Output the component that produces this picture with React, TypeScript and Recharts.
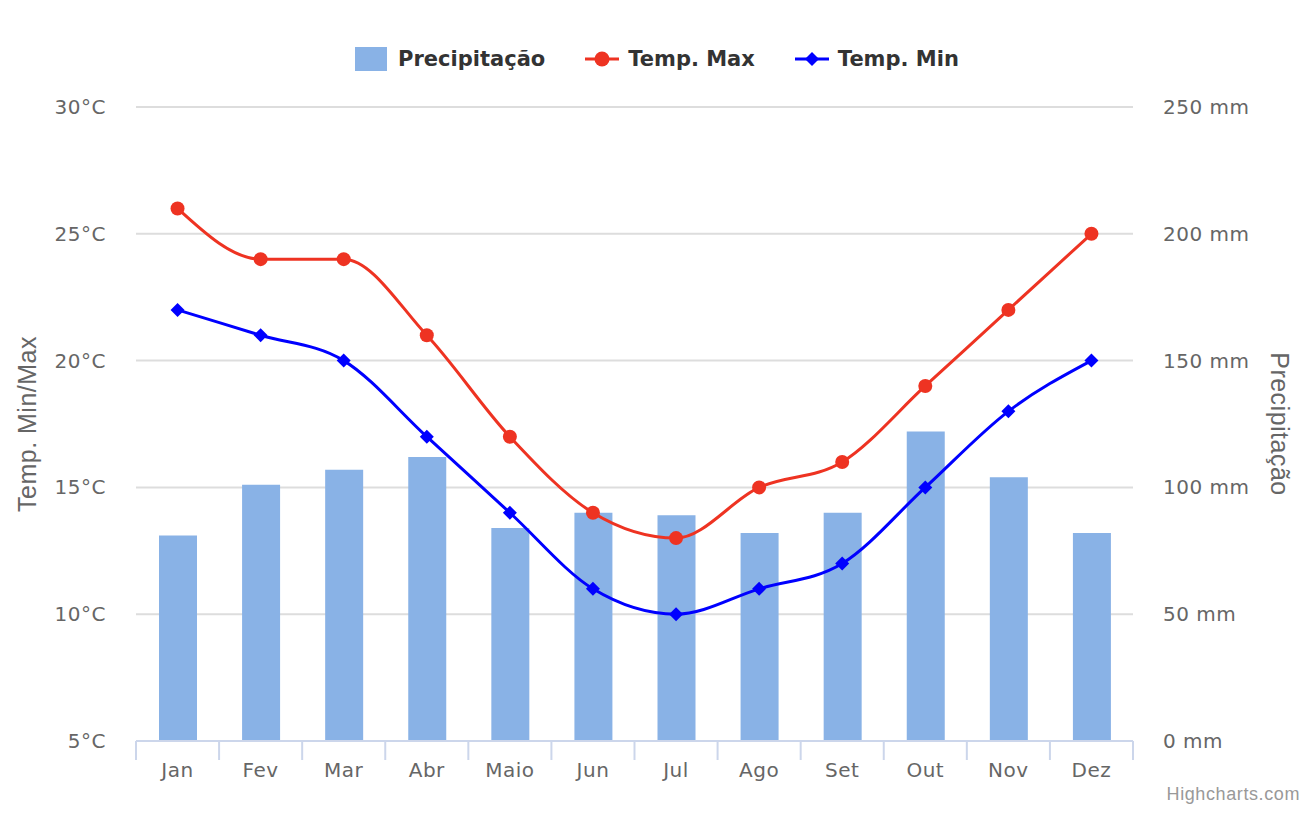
import React from 'react';
import { ComposedChart, Bar, Line, XAxis, YAxis, CartesianGrid } from 'recharts';

const months = ['Jan', 'Fev', 'Mar', 'Abr', 'Maio', 'Jun', 'Jul', 'Ago', 'Set', 'Out', 'Nov', 'Dez'];
const precipitation = [81, 101, 107, 112, 84, 90, 89, 82, 90, 122, 104, 82];
const tempMax = [26, 24, 24, 21, 17, 14, 13, 15, 16, 19, 22, 25];
const tempMin = [22, 21, 20, 17, 14, 11, 10, 11, 12, 15, 18, 20];
const tempTicks = [5, 10, 15, 20, 25, 30];
const precipTicks = [0, 50, 100, 150, 200, 250];

const data = months.map((m, i) => ({
  month: m,
  precip: precipitation[i],
  max: tempMax[i],
  min: tempMin[i],
}));

const W = 1314;
const H = 834;
const LEFT_W = 136;
const RIGHT_W = 181;
const PLOT_W = W - LEFT_W - RIGHT_W;
const BAND = PLOT_W / months.length;

const RED = '#EE3322';
const BLUE = '#0000FF';
const BAR = '#89B2E6';
const AXIS = '#CCD6EB';
const TEXT = '#666666';
const tickFont = { fontFamily: 'DejaVu Sans', fontSize: 20, letterSpacing: 0.5, fill: TEXT };

const XTick = (props: any) => {
  const { x, y, payload, index } = props;
  return (
    <g>
      <line x1={x - BAND / 2} x2={x - BAND / 2} y1={y} y2={y + 19} stroke={AXIS} strokeWidth={2} />
      {index === months.length - 1 && (
        <line x1={x + BAND / 2} x2={x + BAND / 2} y1={y} y2={y + 19} stroke={AXIS} strokeWidth={2} />
      )}
      <text x={x} y={y + 36} textAnchor="middle" {...tickFont}>
        {payload.value}
      </text>
    </g>
  );
};

const LeftTick = (props: any) => {
  const { x, y, payload } = props;
  return (
    <text x={x - 30} y={y + 7} textAnchor="end" {...tickFont}>
      {`${payload.value}°C`}
    </text>
  );
};

const RightTick = (props: any) => {
  const { x, y, payload } = props;
  return (
    <text x={x + 30} y={y + 7} textAnchor="start" {...tickFont}>
      {`${payload.value} mm`}
    </text>
  );
};

const Diamond = (props: any) => {
  const { cx, cy } = props;
  if (cx == null || cy == null) return null;
  const r = 7;
  return <polygon points={`${cx},${cy - r} ${cx + r},${cy} ${cx},${cy + r} ${cx - r},${cy}`} fill={BLUE} />;
};

const titleFont = { fontFamily: 'Liberation Sans', fontSize: 25, letterSpacing: 0.5, fill: TEXT };

const LeftTitle = (props: any) => {
  const vb = props.viewBox;
  const cx = vb.x + 27;
  const cy = vb.y + vb.height / 2;
  return (
    <text x={cx} y={cy} textAnchor="middle" dominantBaseline="central" transform={`rotate(-90 ${cx} ${cy})`} {...titleFont}>
      Temp. Min/Max
    </text>
  );
};

const RightTitle = (props: any) => {
  const vb = props.viewBox;
  const cx = vb.x + 147;
  const cy = vb.y + vb.height / 2;
  return (
    <text x={cx} y={cy} textAnchor="middle" dominantBaseline="central" transform={`rotate(90 ${cx} ${cy})`} {...titleFont}>
      Precipitação
    </text>
  );
};

const legendText: React.CSSProperties = {
  fontFamily: 'DejaVu Sans',
  fontWeight: 'bold',
  fontSize: 21,
  letterSpacing: 0,
  color: '#333333',
};

const LegendBox = () => (
  <div
    style={{
      position: 'absolute',
      left: 0,
      top: 44,
      width: W,
      display: 'flex',
      justifyContent: 'center',
      alignItems: 'center',
      height: 30,
    }}
  >
    <div style={{ display: 'flex', alignItems: 'center', marginRight: 40 }}>
      <div style={{ width: 32, height: 24, background: BAR, marginRight: 11 }} />
      <span style={legendText}>Precipitação</span>
    </div>
    <div style={{ display: 'flex', alignItems: 'center', marginRight: 40 }}>
      <svg width={34} height={20} style={{ marginRight: 9 }}>
        <line x1={0} x2={34} y1={10} y2={10} stroke={RED} strokeWidth={3} />
        <circle cx={17} cy={10} r={7.5} fill={RED} />
      </svg>
      <span style={legendText}>Temp. Max</span>
    </div>
    <div style={{ display: 'flex', alignItems: 'center' }}>
      <svg width={34} height={20} style={{ marginRight: 9 }}>
        <line x1={0} x2={34} y1={10} y2={10} stroke={BLUE} strokeWidth={3} />
        <polygon points="17,3 24,10 17,17 10,10" fill={BLUE} />
      </svg>
      <span style={legendText}>Temp. Min</span>
    </div>
  </div>
);

export default function App() {
  return (
    <div style={{ position: 'absolute', left: 0, top: 0, width: W, height: H, background: '#fff' }}>
      <ComposedChart width={W} height={H} data={data} margin={{ top: 107, right: 0, bottom: 33, left: 0 }}>
        <CartesianGrid yAxisId="temp" vertical={false} stroke="#DDDDDD" strokeWidth={2} />
        <XAxis
          dataKey="month"
          height={60}
          axisLine={{ stroke: AXIS, strokeWidth: 2 }}
          tickLine={false}
          tickSize={0}
          tickMargin={0}
          interval={0}
          tick={<XTick />}
        />
        <YAxis
          yAxisId="temp"
          orientation="left"
          width={LEFT_W}
          domain={[5, 30]}
          ticks={tempTicks}
          axisLine={false}
          tickLine={false}
          tickSize={0}
          tickMargin={0}
          tick={<LeftTick />}
          label={{ content: <LeftTitle /> }}
        />
        <YAxis
          yAxisId="precip"
          orientation="right"
          width={RIGHT_W}
          domain={[0, 250]}
          ticks={precipTicks}
          axisLine={false}
          tickLine={false}
          tickSize={0}
          tickMargin={0}
          tick={<RightTick />}
          label={{ content: <RightTitle /> }}
        />
        <Bar yAxisId="precip" dataKey="precip" fill={BAR} barSize={38} isAnimationActive={false} />
        <Line
          yAxisId="temp"
          type="monotone"
          dataKey="max"
          stroke={RED}
          strokeWidth={3}
          dot={{ r: 7, fill: RED, stroke: RED, strokeWidth: 0 }}
          activeDot={false}
          isAnimationActive={false}
        />
        <Line
          yAxisId="temp"
          type="monotone"
          dataKey="min"
          stroke={BLUE}
          strokeWidth={3}
          dot={<Diamond />}
          activeDot={false}
          isAnimationActive={false}
        />
      </ComposedChart>
      <LegendBox />
      <div
        style={{
          position: 'absolute',
          right: 14,
          top: 784,
          fontFamily: 'Liberation Sans',
          fontSize: 18,
          color: '#999999',
          letterSpacing: 0.6,
        }}
      >
        Highcharts.com
      </div>
    </div>
  );
}
